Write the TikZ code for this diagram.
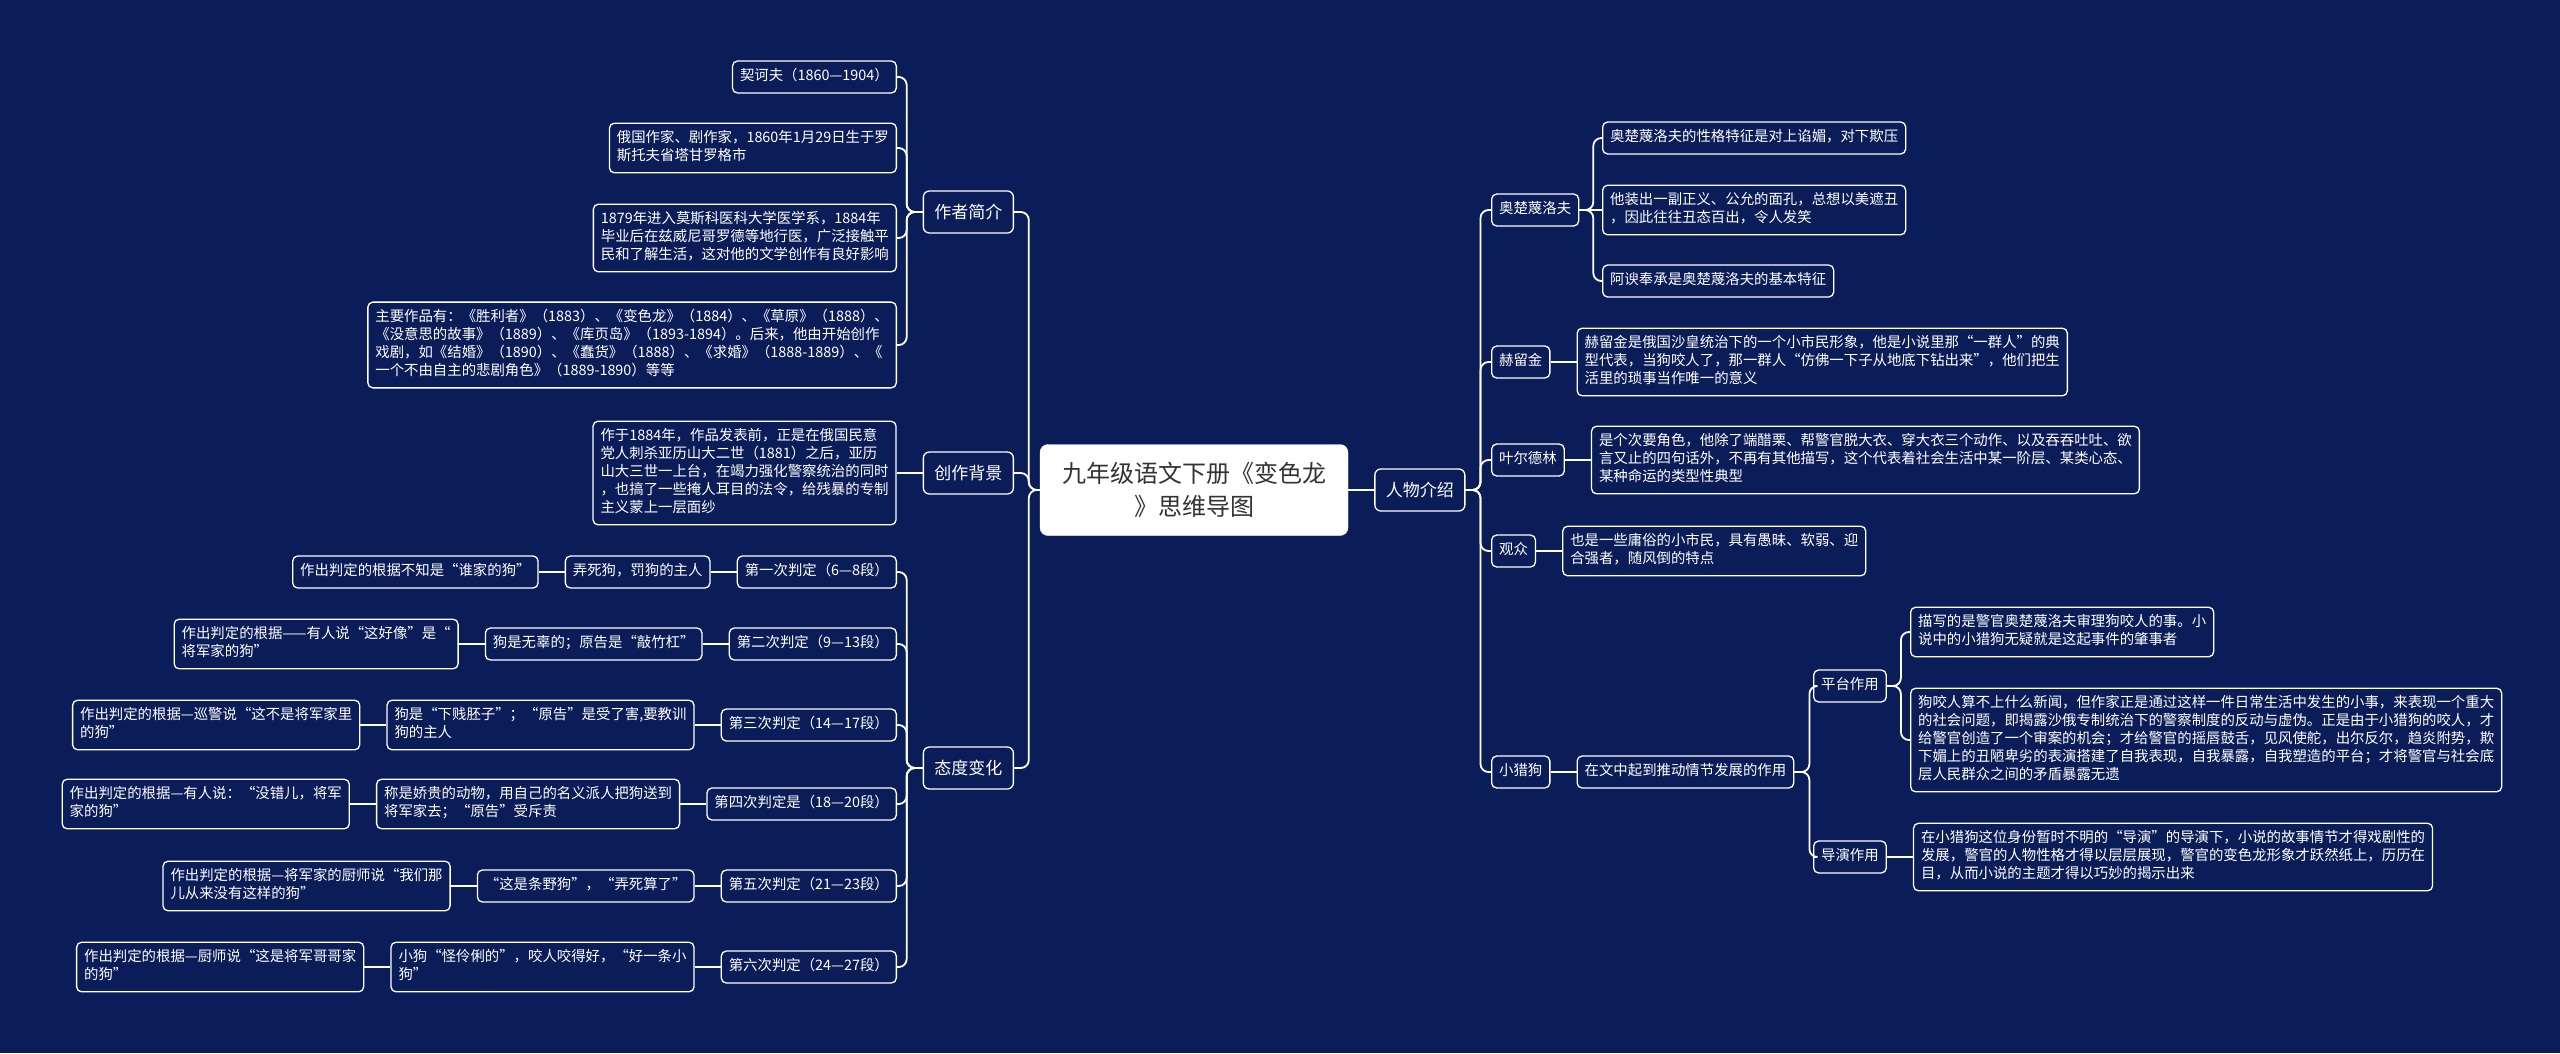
\documentclass[tikz,border=0pt]{standalone}
\usepackage{fontspec}
\setmainfont{Noto Sans CJK SC}
\usepackage{tikz}
\usetikzlibrary{positioning}
\definecolor{mapbg}{RGB}{11,29,88}
\definecolor{rootink}{RGB}{51,51,51}

\begin{document}
\begin{tikzpicture}[
      x=1pt, y=-1pt,
      node distance=26pt,
      root/.style={draw=white, fill=white, rounded corners=8pt, text=rootink,
                   minimum width=308pt, minimum height=91pt, align=center,
                   font=\fontsize{24}{33}\selectfont},
      topic/.style={draw=white, fill=mapbg, line width=1.3pt, rounded corners=6pt,
                    text=white, minimum width=90pt, minimum height=42pt,
                    font=\fontsize{17}{20}\selectfont},
      leaf/.style={draw=white, fill=mapbg, line width=1.3pt, rounded corners=5pt,
                   text=white, align=left, inner xsep=7.5pt, inner ysep=7pt,
                   font=\fontsize{14.4}{18}\selectfont,
                   execute at begin node=\strut, execute at end node=\strut},
      branch/.style={draw=white, line width=1.8pt, rounded corners=8pt}
  ]
    \fill[mapbg] (0,0) rectangle (2560,1053);

    \node[root] (root) at (1194,490) {九年级语文下册《变色龙\\》思维导图};
    \node[topic, right=of root] (rwjs) {人物介绍};
    \node[topic, anchor=east] (zzjj) at (1014,212) {作者简介};
    \node[topic, anchor=east] (czbj) at (1014,473) {创作背景};
    \node[topic, anchor=east] (tdbh) at (1014,768) {态度变化};

    % 作者简介
    \node[leaf, anchor=east] (qhf) at (897,77) {契诃夫（1860—1904）};
    \node[leaf, anchor=east] (zjsf) at (897,148)
      {俄国作家、剧作家，1860年1月29日生于罗\\斯托夫省塔甘罗格市};
    \node[leaf, anchor=east] (xyjl) at (897,238)
      {1879年进入莫斯科医科大学医学系，1884年\\毕业后在兹威尼哥罗德等地行医，广泛接触平\\民和了解生活，这对他的文学创作有良好影响};
    \node[leaf, anchor=east] (zyzp) at (897,345)
      {主要作品有：《胜利者》（1883）、《变色龙》（1884）、《草原》（1888）、\\《没意思的故事》（1889）、《库页岛》（1893-1894）。后来，他由开始创作\\戏剧，如《结婚》（1890）、《蠢货》（1888）、《求婚》（1888-1889）、《\\一个不由自主的悲剧角色》（1889-1890）等等};

    % 创作背景
    \node[leaf, left=of czbj] (bjwz)
      {作于1884年，作品发表前，正是在俄国民意\\党人刺杀亚历山大二世（1881）之后，亚历\\山大三世一上台，在竭力强化警察统治的同时\\，也搞了一些掩人耳目的法令，给残暴的专制\\主义蒙上一层面纱};

    % 态度变化
    \node[leaf, anchor=east] (pd1) at (897,572) {第一次判定（6—8段）};
    \node[leaf, left=of pd1] (jg1) {弄死狗，罚狗的主人};
    \node[leaf, left=of jg1] (yj1) {作出判定的根据不知是“谁家的狗”};
    \node[leaf, anchor=east] (pd2) at (897,644) {第二次判定（9—13段）};
    \node[leaf, left=of pd2] (jg2) {狗是无辜的；原告是“敲竹杠”};
    \node[leaf, left=of jg2] (yj2) {作出判定的根据——有人说“这好像”是“\\将军家的狗”};
    \node[leaf, anchor=east] (pd3) at (897,725) {第三次判定（14—17段）};
    \node[leaf, left=of pd3] (jg3) {狗是“下贱胚子”；“原告”是受了害,要教训\\狗的主人};
    \node[leaf, left=of jg3] (yj3) {作出判定的根据—巡警说“这不是将军家里\\的狗”};
    \node[leaf, anchor=east] (pd4) at (897,804) {第四次判定是（18—20段）};
    \node[leaf, left=of pd4] (jg4) {称是娇贵的动物，用自己的名义派人把狗送到\\将军家去；“原告”受斥责};
    \node[leaf, left=of jg4] (yj4) {作出判定的根据—有人说：“没错儿，将军\\家的狗”};
    \node[leaf, anchor=east] (pd5) at (897,886) {第五次判定（21—23段）};
    \node[leaf, left=of pd5] (jg5) {“这是条野狗”，“弄死算了”};
    \node[leaf, left=of jg5] (yj5) {作出判定的根据—将军家的厨师说“我们那\\儿从来没有这样的狗”};
    \node[leaf, anchor=east] (pd6) at (897,967) {第六次判定（24—27段）};
    \node[leaf, left=of pd6] (jg6) {小狗“怪伶俐的”，咬人咬得好，“好一条小\\狗”};
    \node[leaf, left=of jg6] (yj6) {作出判定的根据—厨师说“这是将军哥哥家\\的狗”};

    % 人物介绍
    \node[leaf, anchor=west] (ocml) at (1491,210) {奥楚蔑洛夫};
    \node[leaf, anchor=west] (oc1) at (1602,138) {奥楚蔑洛夫的性格特征是对上谄媚，对下欺压};
    \node[leaf, anchor=west] (oc2) at (1602,210)
      {他装出一副正义、公允的面孔，总想以美遮丑\\，因此往往丑态百出，令人发笑};
    \node[leaf, anchor=west] (oc3) at (1602,281) {阿谀奉承是奥楚蔑洛夫的基本特征};
    \node[leaf, anchor=west] (hlj) at (1491,362) {赫留金};
    \node[leaf, right=of hlj] (hljt)
      {赫留金是俄国沙皇统治下的一个小市民形象，他是小说里那“一群人”的典\\型代表，当狗咬人了，那一群人“仿佛一下子从地底下钻出来”，他们把生\\活里的琐事当作唯一的意义};
    \node[leaf, anchor=west] (yedl) at (1491,460) {叶尔德林};
    \node[leaf, right=of yedl] (yedlt)
      {是个次要角色，他除了端醋栗、帮警官脱大衣、穿大衣三个动作、以及吞吞吐吐、欲\\言又止的四句话外，不再有其他描写，这个代表着社会生活中某一阶层、某类心态、\\某种命运的类型性典型};
    \node[leaf, anchor=west] (gz) at (1491,551) {观众};
    \node[leaf, right=of gz] (gzt) {也是一些庸俗的小市民，具有愚昧、软弱、迎\\合强者，随风倒的特点};
    \node[leaf, anchor=west] (xlg) at (1491,772) {小猎狗};
    \node[leaf, right=of xlg] (zy) {在文中起到推动情节发展的作用};
    \node[leaf, anchor=west] (ptzy) at (1813,686) {平台作用};
    \node[leaf, anchor=west] (pt1) at (1910,632)
      {描写的是警官奥楚蔑洛夫审理狗咬人的事。小\\说中的小猎狗无疑就是这起事件的肇事者};
    \node[leaf, anchor=west] (pt2) at (1910,740)
      {狗咬人算不上什么新闻，但作家正是通过这样一件日常生活中发生的小事，来表现一个重大\\的社会问题，即揭露沙俄专制统治下的警察制度的反动与虚伪。正是由于小猎狗的咬人，才\\给警官创造了一个审案的机会；才给警官的摇唇鼓舌，见风使舵，出尔反尔，趋炎附势，欺\\下媚上的丑陋卑劣的表演搭建了自我表现，自我暴露，自我塑造的平台；才将警官与社会底\\层人民群众之间的矛盾暴露无遗};
    \node[leaf, anchor=west] (dyzy) at (1813,857) {导演作用};
    \node[leaf, right=of dyzy] (dyt)
      {在小猎狗这位身份暂时不明的“导演”的导演下，小说的故事情节才得戏剧性的\\发展，警官的人物性格才得以层层展现，警官的变色龙形象才跃然纸上，历历在\\目，从而小说的主题才得以巧妙的揭示出来};

    % connectors
    \draw[branch] (root.east) -- (rwjs.west);
    \draw[branch] (root.west) -- ++(-11,0) |- (zzjj.east);
    \draw[branch] (root.west) -- ++(-11,0) |- (czbj.east);
    \draw[branch] (root.west) -- ++(-11,0) |- (tdbh.east);

    \draw[branch] (zzjj.west) -- ++(-16,0) |- (qhf.east);
    \draw[branch] (zzjj.west) -- ++(-16,0) |- (zjsf.east);
    \draw[branch] (zzjj.west) -- ++(-16,0) |- (xyjl.east);
    \draw[branch] (zzjj.west) -- ++(-16,0) |- (zyzp.east);
    \draw[branch] (czbj.west) -- (bjwz.east);

    \draw[branch] (tdbh.west) -- ++(-16,0) |- (pd1.east);
    \draw[branch] (tdbh.west) -- ++(-16,0) |- (pd2.east);
    \draw[branch] (tdbh.west) -- ++(-16,0) |- (pd3.east);
    \draw[branch] (tdbh.west) -- ++(-16,0) |- (pd4.east);
    \draw[branch] (tdbh.west) -- ++(-16,0) |- (pd5.east);
    \draw[branch] (tdbh.west) -- ++(-16,0) |- (pd6.east);
    \draw[branch] (pd1.west) -- (jg1.east);  \draw[branch] (jg1.west) -- (yj1.east);
    \draw[branch] (pd2.west) -- (jg2.east);  \draw[branch] (jg2.west) -- (yj2.east);
    \draw[branch] (pd3.west) -- (jg3.east);  \draw[branch] (jg3.west) -- (yj3.east);
    \draw[branch] (pd4.west) -- (jg4.east);  \draw[branch] (jg4.west) -- (yj4.east);
    \draw[branch] (pd5.west) -- (jg5.east);  \draw[branch] (jg5.west) -- (yj5.east);
    \draw[branch] (pd6.west) -- (jg6.east);  \draw[branch] (jg6.west) -- (yj6.east);

    \draw[branch] (rwjs.east) -- ++(15,0) |- (ocml.west);
    \draw[branch] (rwjs.east) -- ++(15,0) |- (hlj.west);
    \draw[branch] (rwjs.east) -- ++(15,0) |- (yedl.west);
    \draw[branch] (rwjs.east) -- ++(15,0) |- (gz.west);
    \draw[branch] (rwjs.east) -- ++(15,0) |- (xlg.west);
    \draw[branch] (ocml.east) -- ++(14,0) |- (oc1.west);
    \draw[branch] (ocml.east) -- (oc2.west);
    \draw[branch] (ocml.east) -- ++(14,0) |- (oc3.west);
    \draw[branch] (hlj.east) -- (hljt.west);
    \draw[branch] (yedl.east) -- (yedlt.west);
    \draw[branch] (gz.east) -- (gzt.west);
    \draw[branch] (xlg.east) -- (zy.west);
    \draw[branch] (zy.east) -- ++(15,0) |- (ptzy.west);
    \draw[branch] (zy.east) -- ++(15,0) |- (dyzy.west);
    \draw[branch] (ptzy.east) -- ++(14,0) |- (pt1.west);
    \draw[branch] (ptzy.east) -- ++(14,0) |- (pt2.west);
    \draw[branch] (dyzy.east) -- (dyt.west);
\end{tikzpicture}
\end{document}
